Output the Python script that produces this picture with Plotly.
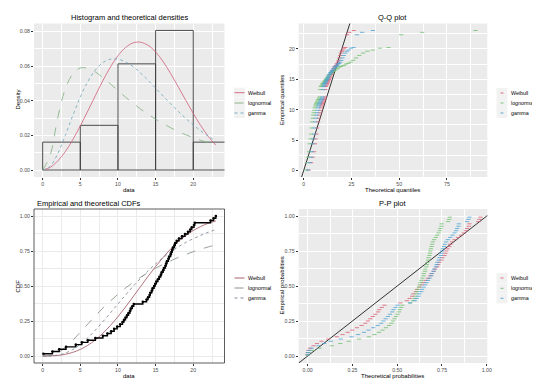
import plotly.graph_objects as go

# ---------------- data ----------------
data = [0.1,1.3,2.2,3.1,4.4,5.2,6.0,7.0,8.0,8.6,9.1,9.5,9.9,10.3,10.6,10.8,11.0,11.2,11.4,11.6,11.7,11.9,12.1,13.3,13.8,14.0,14.2,14.3,14.5,14.6,14.8,14.95,15.1,15.3,15.5,15.7,15.8,16.0,16.1,16.3,16.4,16.5,16.7,16.8,17.0,17.1,17.2,17.3,17.5,17.6,17.8,18.1,18.5,18.9,19.3,19.6,19.8,20.1,20.2,22.3,22.7,23.0]
ecdf_p = [0.016,0.032,0.048,0.065,0.081,0.097,0.113,0.129,0.145,0.161,0.177,0.194,0.210,0.226,0.242,0.258,0.274,0.290,0.306,0.323,0.339,0.355,0.371,0.387,0.403,0.419,0.435,0.452,0.468,0.484,0.500,0.516,0.532,0.548,0.565,0.581,0.597,0.613,0.629,0.645,0.661,0.677,0.694,0.710,0.726,0.742,0.758,0.774,0.790,0.806,0.823,0.839,0.855,0.871,0.887,0.903,0.919,0.935,0.952,0.968,0.984,1.000]
emp_p = [0.008,0.024,0.040,0.056,0.073,0.089,0.105,0.121,0.137,0.153,0.169,0.185,0.202,0.218,0.234,0.250,0.266,0.282,0.298,0.315,0.331,0.347,0.363,0.379,0.395,0.411,0.427,0.444,0.460,0.476,0.492,0.508,0.524,0.540,0.556,0.573,0.589,0.605,0.621,0.637,0.653,0.669,0.685,0.702,0.718,0.734,0.750,0.766,0.782,0.798,0.815,0.831,0.847,0.863,0.879,0.895,0.911,0.927,0.944,0.960,0.976,0.992]

bin_left = [0, 5, 10, 15, 20]
bin_width = 5
hist_density = [0.0161, 0.0258, 0.0613, 0.0806, 0.0161]

grid_x = [0,1,2,3,4,5,6,7,8,9,10,11,12,13,14,15,16,17,18,19,20,21,22,23]
dens_weibull = [0,0.0015,0.0052,0.0106,0.0175,0.0255,0.0341,0.0430,0.0516,0.0595,0.0660,0.0707,0.0734,0.0738,0.0720,0.0682,0.0626,0.0557,0.0481,0.0403,0.0327,0.0256,0.0194,0.0143]
dens_lognormal = [0,0.0086,0.0302,0.0467,0.0555,0.0589,0.0587,0.0566,0.0534,0.0497,0.0459,0.0421,0.0386,0.0352,0.0322,0.0294,0.0268,0.0244,0.0223,0.0204,0.0187,0.0171,0.0157,0.0144]
dens_gamma = [0,0.0022,0.0094,0.0199,0.0314,0.0422,0.0511,0.0578,0.0620,0.0640,0.0640,0.0624,0.0597,0.0560,0.0518,0.0473,0.0427,0.0382,0.0339,0.0298,0.0261,0.0226,0.0195,0.0168]

cdf_weibull = [0,0.001,0.004,0.012,0.026,0.047,0.077,0.115,0.163,0.218,0.281,0.350,0.422,0.496,0.569,0.639,0.704,0.764,0.816,0.860,0.896,0.925,0.948,0.965]
cdf_lognormal = [0,0.002,0.022,0.061,0.112,0.170,0.229,0.287,0.342,0.393,0.441,0.485,0.526,0.562,0.596,0.627,0.655,0.680,0.704,0.725,0.745,0.763,0.779,0.794]
cdf_gamma = [0,0.001,0.006,0.021,0.046,0.084,0.130,0.185,0.245,0.308,0.372,0.435,0.497,0.554,0.608,0.658,0.703,0.744,0.779,0.811,0.838,0.862,0.884,0.903]

qq_weibull = [2.6,3.9,4.7,5.4,5.9,6.3,6.8,7.1,7.5,7.8,8.1,8.4,8.7,9.0,9.3,9.5,9.8,10.0,10.3,10.5,10.7,11.0,11.2,11.4,11.6,11.9,12.1,12.3,12.5,12.7,12.9,13.2,13.4,13.6,13.8,14.1,14.3,14.5,14.7,15.0,15.2,15.5,15.7,16.0,16.2,16.5,16.8,17.0,17.4,17.7,18.0,18.3,18.7,19.1,19.5,20.0,20.5,21.1,21.8,22.7,23.9,26.2]
qq_lognormal = [1.4,2.1,2.5,2.9,3.2,3.6,3.9,4.2,4.4,4.7,5.0,5.3,5.5,5.8,6.1,6.4,6.6,6.9,7.2,7.5,7.8,8.1,8.4,8.7,9.0,9.4,9.7,10.1,10.4,10.8,11.2,11.6,12.0,12.4,12.8,13.3,13.8,14.3,14.8,15.4,15.9,16.6,17.2,17.9,18.6,19.4,20.3,21.2,22.2,23.3,24.5,25.9,27.4,29.1,31.1,33.4,36.2,39.8,44.4,51.0,62.0,89.9]
qq_gamma = [2.2,3.2,3.8,4.3,4.7,5.1,5.5,5.8,6.1,6.4,6.7,7.0,7.3,7.6,7.8,8.1,8.3,8.6,8.9,9.1,9.4,9.6,9.9,10.1,10.4,10.6,10.9,11.1,11.4,11.7,11.9,12.2,12.5,12.7,13.0,13.3,13.6,13.9,14.2,14.6,14.9,15.2,15.6,16.0,16.3,16.8,17.2,17.6,18.1,18.6,19.1,19.7,20.3,21.0,21.7,22.6,23.5,24.7,26.1,27.9,30.6,36.2]

pp_weibull = [0.000,0.001,0.005,0.013,0.033,0.052,0.077,0.115,0.163,0.195,0.224,0.249,0.275,0.301,0.322,0.336,0.350,0.364,0.378,0.393,0.400,0.414,0.429,0.518,0.554,0.569,0.583,0.590,0.604,0.611,0.625,0.636,0.646,0.659,0.672,0.685,0.692,0.704,0.711,0.723,0.729,0.735,0.747,0.752,0.764,0.769,0.775,0.780,0.791,0.796,0.806,0.820,0.839,0.856,0.872,0.883,0.890,0.900,0.903,0.953,0.960,0.965]
pp_lognormal = [0.0,0.006,0.028,0.066,0.135,0.182,0.229,0.287,0.342,0.373,0.398,0.418,0.437,0.455,0.468,0.477,0.485,0.493,0.502,0.51,0.514,0.522,0.529,0.573,0.59,0.596,0.602,0.606,0.612,0.615,0.621,0.625,0.63,0.635,0.641,0.647,0.649,0.655,0.657,0.663,0.665,0.668,0.673,0.675,0.68,0.683,0.685,0.688,0.692,0.695,0.699,0.706,0.715,0.723,0.731,0.737,0.741,0.747,0.748,0.784,0.79,0.794]
pp_gamma = [0.0,0.002,0.008,0.023,0.06,0.092,0.13,0.185,0.245,0.282,0.314,0.34,0.366,0.391,0.41,0.423,0.435,0.448,0.46,0.472,0.479,0.491,0.503,0.571,0.598,0.608,0.619,0.624,0.634,0.639,0.648,0.656,0.663,0.672,0.681,0.69,0.694,0.703,0.707,0.716,0.72,0.724,0.732,0.736,0.744,0.747,0.751,0.755,0.762,0.766,0.773,0.783,0.796,0.808,0.82,0.829,0.834,0.842,0.844,0.89,0.898,0.903]

dist_names = ["Weibull", "lognormal", "gamma"]

# ---------------- styling ----------------
W, H = 540, 381
FONT = "Liberation Sans"
COL = ["#DA5E74", "#6FBF6F", "#4AA3D6"]
COL_DENS = ["#D0607A", "#7DAE7D", "#6AA6B8"]
COL_CDF = ["#A0505E", "#7C8A7C", "#76808F"]
DASH = ["solid", "dash", "dot"]
GRAYBG = "#EBEBEB"
TICKC = "#4D4D4D"

def xd(a, b): return [a / W, b / W]
def yd(top, bot): return [1 - bot / H, 1 - top / H]
def px(x): return x / W
def py(y): return 1 - y / H

TL_X, TOP_Y = xd(26, 216.5), yd(15.5, 169)
TR_X = xd(290.7, 479.3)
BOT_Y = yd(201, 355)

def axis(domain, rng, ticks, labels, minor, anchor, grid):
    return dict(domain=domain, range=rng, tickmode="array", tickvals=ticks, ticktext=labels,
                showgrid=True, gridcolor=grid, gridwidth=0.9, zeroline=False,
                ticks="outside", ticklen=2, tickwidth=0.6, tickcolor="#333333",
                tickfont=dict(family=FONT, size=5.2, color=TICKC), anchor=anchor,
                showline=False, fixedrange=True,
                minor=dict(tickmode="array", tickvals=minor, showgrid=True, gridcolor=grid,
                           gridwidth=0.45, ticks=""))

fig = go.Figure()

# --- Histogram and densities (x, y)
fig.add_trace(go.Bar(x=[b + bin_width / 2 for b in bin_left], y=hist_density, width=bin_width,
                     marker=dict(color="rgba(0,0,0,0)", line=dict(color="#3a3a3a", width=0.9)),
                     xaxis="x", yaxis="y"))
for vals, c, d in zip([dens_weibull, dens_lognormal, dens_gamma], COL_DENS, DASH):
    fig.add_trace(go.Scatter(x=grid_x, y=vals, mode="lines", line=dict(color=c, dash=d, width=0.8, shape="spline"),
                             xaxis="x", yaxis="y"))

# --- Q-Q plot (x2, y2)
fig.add_trace(go.Scatter(x=[-10, 100], y=[-10, 100], mode="lines", line=dict(color="black", width=0.8),
                         xaxis="x2", yaxis="y2"))
for vals, c in zip([qq_weibull, qq_lognormal, qq_gamma], COL):
    fig.add_trace(go.Scatter(x=vals, y=data, mode="markers",
                             marker=dict(symbol="line-ew-open", size=3, color=c, line=dict(color=c, width=0.8)),
                             xaxis="x2", yaxis="y2"))

# --- CDFs (x3, y3)
for vals, c, d in zip([cdf_weibull, cdf_lognormal, cdf_gamma], COL_CDF, DASH):
    fig.add_trace(go.Scatter(x=grid_x, y=vals, mode="lines", line=dict(color=c, dash=d, width=0.8, shape="spline"),
                             xaxis="x3", yaxis="y3"))
fig.add_trace(go.Scatter(x=data, y=ecdf_p, mode="lines+markers", line=dict(color="black", width=1.4, shape="hv"),
                         marker=dict(color="black", size=2.6), xaxis="x3", yaxis="y3"))

# --- P-P plot (x4, y4)
fig.add_trace(go.Scatter(x=[-1, 2], y=[-1, 2], mode="lines", line=dict(color="black", width=0.8),
                         xaxis="x4", yaxis="y4"))
for vals, c in zip([pp_weibull, pp_lognormal, pp_gamma], COL):
    fig.add_trace(go.Scatter(x=vals, y=emp_p, mode="markers",
                             marker=dict(symbol="line-ew-open", size=3, color=c, line=dict(color=c, width=0.8)),
                             xaxis="x4", yaxis="y4"))

fig.update_traces(hoverinfo="skip")

p4 = ["0.00", "0.25", "0.50", "0.75", "1.00"]
pv = [0, 0.25, 0.5, 0.75, 1]
pm = [0.125, 0.375, 0.625, 0.875]
fig.update_layout(
    template="none",
    width=W, height=H, margin=dict(l=0, r=0, t=0, b=0), showlegend=False,
    paper_bgcolor="white", plot_bgcolor="white",
    font=dict(family=FONT, color="black"),
    xaxis=axis(TL_X, [-1.15, 24.15], [0, 5, 10, 15, 20], ["0", "5", "10", "15", "20"], [2.5, 7.5, 12.5, 17.5, 22.5], "y", "white"),
    yaxis=axis(TOP_Y, [-0.00403, 0.0846], [0, 0.02, 0.04, 0.06, 0.08], ["0.00", "0.02", "0.04", "0.06", "0.08"], [0.01, 0.03, 0.05, 0.07], "x", "white"),
    xaxis2=axis(TR_X, [-2.6, 96.1], [0, 25, 50, 75], ["0", "25", "50", "75"], [12.5, 37.5, 62.5, 87.5], "y2", "white"),
    yaxis2=axis(TOP_Y, [-1.05, 24.15], [0, 5, 10, 15, 20], ["0", "5", "10", "15", "20"], [2.5, 7.5, 12.5, 17.5, 22.5], "x2", "white"),
    xaxis3=axis(TL_X, [-1.15, 24.15], [0, 5, 10, 15, 20], ["0", "5", "10", "15", "20"], [2.5, 7.5, 12.5, 17.5, 22.5], "y3", "#EBEBEB"),
    yaxis3=axis(BOT_Y, [-0.05, 1.05], pv, p4, pm, "x3", "#EBEBEB"),
    xaxis4=axis(TR_X, [-0.05, 1.003], pv, p4, pm, "y4", "white"),
    yaxis4=axis(BOT_Y, [-0.05, 1.05], pv, p4, pm, "x4", "white"),
)

shapes = []
for xr, yr in [("x", "y"), ("x2", "y2"), ("x4", "y4")]:
    shapes.append(dict(type="rect", xref=xr + " domain", yref=yr + " domain", x0=0, x1=1, y0=0, y1=1,
                       fillcolor=GRAYBG, line=dict(width=0), layer="below"))
shapes.append(dict(type="rect", xref="x3 domain", yref="y3 domain", x0=0, x1=1, y0=0, y1=1,
                   fillcolor="rgba(0,0,0,0)", line=dict(color="#333333", width=0.8), layer="above"))

annotations = []
def text(x, y, s, size, anchor="center", angle=0, color="black"):
    annotations.append(dict(x=px(x), y=py(y), xref="paper", yref="paper", text=s, showarrow=False,
                            xanchor=anchor, yanchor="middle", textangle=angle,
                            font=dict(family=FONT, size=size, color=color)))

text(121.2, 9.5, "Histogram and theoretical densities", 7.5)
text(385, 9.5, "Q-Q plot", 7.5)
text(26.5, 195.5, "Empirical and theoretical CDFs", 7.5, anchor="left")
text(385, 195.5, "P-P plot", 7.5)
text(121.2, 182, "data", 6)
text(9.5, 92, "Density", 6, angle=-90)
text(385, 182, "Theoretical quantiles", 6)
text(274, 92, "Empirical quantiles", 6, angle=-90)
text(121.2, 367.5, "data", 6)
text(9.5, 278, "CDF", 6, angle=-90)
text(385, 367.5, "Theoretical probabilities", 6)
text(273.5, 278, "Empirical probabilities", 6, angle=-90)

def legend(x_key, x_text, rows, kind, colors, keybg):
    for i, (yy, name) in enumerate(zip(rows, dist_names)):
        shapes.append(dict(type="rect", xref="paper", yref="paper", x0=px(x_key - 5.5), x1=px(x_key + 5.5),
                           y0=py(yy + 5), y1=py(yy - 5), fillcolor=keybg, line=dict(width=0), layer="above"))
        if kind == "line":
            shapes.append(dict(type="line", xref="paper", yref="paper", x0=px(x_key - 5), x1=px(x_key + 5),
                               y0=py(yy), y1=py(yy), line=dict(color=colors[i], width=0.9, dash=DASH[i]),
                               layer="above"))
        else:
            shapes.append(dict(type="line", xref="paper", yref="paper", x0=px(x_key - 1.5), x1=px(x_key + 1.5),
                               y0=py(yy), y1=py(yy), line=dict(color=colors[i], width=0.9), layer="above"))
        text(x_text, yy, name, 5.3, anchor="left")

legend(231.5, 237.5, [84.7, 95, 105], "line", COL_DENS, "#F2F2F2")
legend(494, 500.5, [85, 95, 105], "point", COL, "#F2F2F2")
legend(231.5, 237.5, [270, 280, 290], "line", COL_CDF, "white")
legend(494, 500.5, [270, 280.3, 290.3], "point", COL, "#F2F2F2")

fig.update_layout(shapes=shapes, annotations=annotations)
fig.write_html("out.html")
